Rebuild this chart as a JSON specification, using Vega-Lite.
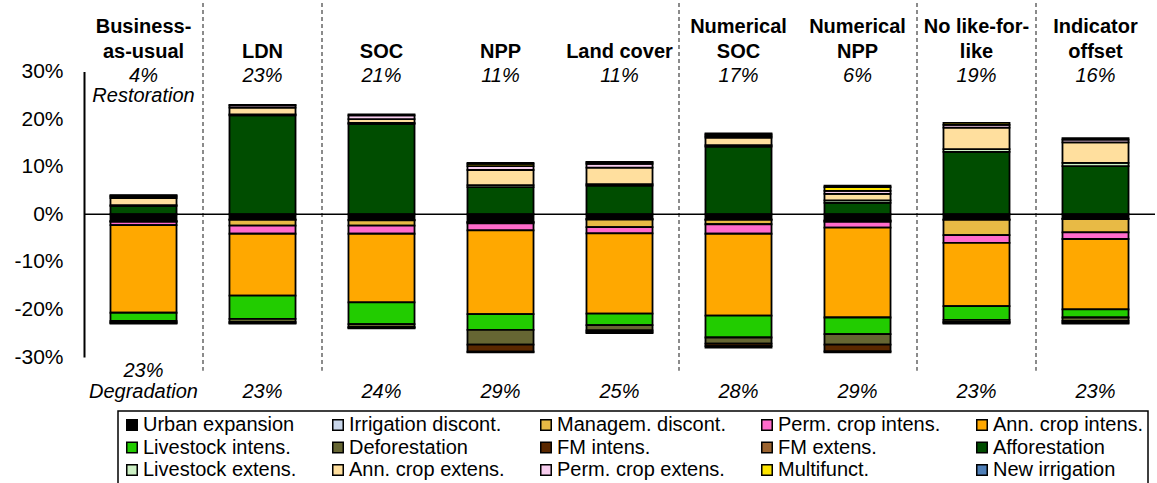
{
  "$schema": "https://vega.github.io/schema/vega-lite/v6.json",
  "width": 1071,
  "height": 285.5,
  "autosize": {"type": "none"},
  "padding": {"left": 84, "top": 71.5, "right": 2, "bottom": 126},
  "background": "white",
  "config": {
    "view": {"stroke": null},
    "font": "Liberation Sans",
    "text": {"font": "Liberation Sans", "color": "black"},
    "legend": {
      "orient": "none",
      "legendX": 34,
      "legendY": 339.5,
      "direction": "horizontal",
      "columns": 5,
      "strokeColor": "black",
      "strokeWidth": 1.5,
      "padding": 4,
      "columnPadding": 31,
      "rowPadding": 2.5,
      "labelFont": "Liberation Sans",
      "labelFontSize": 20,
      "labelColor": "black",
      "labelOffset": 1,
      "labelLimit": 400,
      "symbolType": "square",
      "symbolSize": 110,
      "symbolStrokeColor": "black",
      "symbolStrokeWidth": 1.5,
      "title": null
    }
  },
  "datasets": {
    "shares": [
      {"s": "Business-as-usual", "u": -1.4, "id": -0.1, "md": -0.1, "pi": -0.7, "ai": -18.4, "li": -1.7, "df": -0.3, "fi": -0.2, "fe": -0.1, "af": 1.7, "le": 0.2, "ae": 1.5, "pe": 0.3, "mf": 0.2, "ni": 0.1},
      {"s": "LDN", "u": -1.1, "id": -0.1, "md": -1.2, "pi": -1.7, "ai": -13.0, "li": -4.9, "df": -0.6, "fi": -0.3, "fe": -0.1, "af": 20.8, "le": 0.2, "ae": 1.4, "pe": 0.5, "mf": 0.1},
      {"s": "SOC", "u": -1.2, "id": -0.1, "md": -1.1, "pi": -1.7, "ai": -14.4, "li": -4.6, "df": -0.6, "fi": -0.2, "fe": -0.1, "af": 19.0, "le": 0.2, "ae": 0.8, "pe": 0.8, "mf": 0.2},
      {"s": "NPP", "u": -1.6, "id": -0.1, "md": -0.2, "pi": -1.5, "ai": -17.6, "li": -3.3, "df": -3.1, "fi": -1.5, "fe": -0.1, "af": 5.7, "le": 0.4, "ae": 3.2, "pe": 0.8, "mf": 0.5, "ni": 0.2},
      {"s": "Land cover", "u": -1.0, "id": -0.1, "md": -1.6, "pi": -1.3, "ai": -16.9, "li": -2.4, "df": -1.1, "fi": -0.4, "fe": -0.2, "af": 6.0, "le": 0.3, "ae": 3.5, "pe": 0.8, "mf": 0.3, "ni": 0.1},
      {"s": "Numerical SOC", "u": -1.1, "id": -0.1, "md": -0.9, "pi": -2.0, "ai": -17.2, "li": -4.6, "df": -1.3, "fi": -0.5, "fe": -0.3, "af": 14.2, "le": 0.3, "ae": 1.6, "pe": 0.3, "mf": 0.4, "ni": 0.2},
      {"s": "Numerical NPP", "u": -1.3, "id": -0.1, "md": -0.2, "pi": -1.2, "ai": -18.9, "li": -3.5, "df": -2.2, "fi": -1.4, "fe": -0.2, "af": 2.4, "le": 0.5, "ae": 1.4, "pe": 0.6, "mf": 0.8, "ni": 0.3},
      {"s": "No like-for-like", "u": -1.1, "id": -0.1, "md": -3.2, "pi": -1.6, "ai": -13.3, "li": -2.9, "df": -0.4, "fi": -0.2, "fe": -0.2, "af": 13.1, "le": 0.6, "ae": 4.5, "pe": 0.6, "mf": 0.4},
      {"s": "Indicator offset", "u": -0.9, "id": -0.1, "md": -2.8, "pi": -1.4, "ai": -14.8, "li": -1.7, "df": -0.7, "fi": -0.4, "fe": -0.2, "af": 10.1, "le": 0.7, "ae": 4.3, "pe": 0.6, "mf": 0.3}
    ],
    "types": [
      {"c": "u", "t": "Urban expansion", "k": 1},
      {"c": "id", "t": "Irrigation discont.", "k": 2},
      {"c": "md", "t": "Managem. discont.", "k": 3},
      {"c": "pi", "t": "Perm. crop intens.", "k": 4},
      {"c": "ai", "t": "Ann. crop intens.", "k": 5},
      {"c": "li", "t": "Livestock intens.", "k": 6},
      {"c": "df", "t": "Deforestation", "k": 7},
      {"c": "fi", "t": "FM intens.", "k": 8},
      {"c": "fe", "t": "FM extens.", "k": 9},
      {"c": "af", "t": "Afforestation", "k": 10},
      {"c": "le", "t": "Livestock extens.", "k": 11},
      {"c": "ae", "t": "Ann. crop extens.", "k": 12},
      {"c": "pe", "t": "Perm. crop extens.", "k": 13},
      {"c": "mf", "t": "Multifunct.", "k": 14},
      {"c": "ni", "t": "New irrigation", "k": 15}
    ],
    "labels": [
      {"s": "Business-as-usual", "title": ["Business-", "as-usual"], "up": ["4%", "Restoration"], "down": ["23%", "Degradation"]},
      {"s": "LDN", "title": ["", "LDN"], "up": ["23%"], "down": ["", "23%"]},
      {"s": "SOC", "title": ["", "SOC"], "up": ["21%"], "down": ["", "24%"]},
      {"s": "NPP", "title": ["", "NPP"], "up": ["11%"], "down": ["", "29%"]},
      {"s": "Land cover", "title": ["", "Land cover"], "up": ["11%"], "down": ["", "25%"]},
      {"s": "Numerical SOC", "title": ["Numerical", "SOC"], "up": ["17%"], "down": ["", "28%"]},
      {"s": "Numerical NPP", "title": ["Numerical", "NPP"], "up": ["6%"], "down": ["", "29%"]},
      {"s": "No like-for-like", "title": ["No like-for-", "like"], "up": ["19%"], "down": ["", "23%"]},
      {"s": "Indicator offset", "title": ["Indicator", "offset"], "up": ["16%"], "down": ["", "23%"]}
    ],
    "seps": [
      {"s": "LDN"}, {"s": "SOC"}, {"s": "Numerical SOC"}, {"s": "No like-for-like"}, {"s": "Indicator offset"}
    ]
  },
  "layer": [
    {
      "data": {"name": "shares"},
      "transform": [
        {"fold": ["u", "id", "md", "pi", "ai", "li", "df", "fi", "fe", "af", "le", "ae", "pe", "mf", "ni"], "as": ["c", "v"]},
        {"filter": "isValid(datum.v) && datum.v != 0"},
        {"lookup": "c", "from": {"data": {"name": "types"}, "key": "c", "fields": ["t", "k"]}}
      ],
      "mark": {"type": "bar", "stroke": "black", "strokeWidth": 1.8, "width": {"band": 0.555}},
      "encoding": {
        "x": {"field": "s", "type": "nominal", "axis": null,
              "scale": {"domain": ["Business-as-usual", "LDN", "SOC", "NPP", "Land cover", "Numerical SOC", "Numerical NPP", "No like-for-like", "Indicator offset"], "paddingInner": 0, "paddingOuter": 0}},
        "y": {"field": "v", "type": "quantitative", "stack": "zero",
              "scale": {"domain": [-30, 30], "nice": false},
              "axis": {"title": null, "values": [-30, -20, -10, 0, 10, 20, 30], "labelExpr": "datum.value + '%'",
                       "grid": false, "ticks": false, "labelPadding": 21, "labelFontSize": 21, "labelFont": "Liberation Sans",
                       "labelColor": "black", "domainColor": "black", "domainWidth": 2}},
        "color": {"field": "t", "type": "nominal",
                  "scale": {"domain": ["Urban expansion", "Irrigation discont.", "Managem. discont.", "Perm. crop intens.", "Ann. crop intens.", "Livestock intens.", "Deforestation", "FM intens.", "FM extens.", "Afforestation", "Livestock extens.", "Ann. crop extens.", "Perm. crop extens.", "Multifunct.", "New irrigation"],
                            "range": ["#000000", "#C9D6EA", "#E8BA45", "#FF6BCB", "#FFA800", "#22CC00", "#666633", "#5A2800", "#9C6430", "#004D00", "#CCF0C4", "#FFDF9E", "#F7CDEE", "#FFE600", "#4F7FB8"]}},
        "order": {"field": "k", "type": "quantitative"}
      }
    },
    {
      "data": {"name": "seps"},
      "mark": {"type": "rule", "strokeDash": [4, 3], "color": "#666666", "strokeWidth": 1.5},
      "encoding": {
        "x": {"field": "s", "type": "nominal", "bandPosition": 0, "axis": null,
              "scale": {"domain": ["Business-as-usual", "LDN", "SOC", "NPP", "Land cover", "Numerical SOC", "Numerical NPP", "No like-for-like", "Indicator offset"], "paddingInner": 0, "paddingOuter": 0}},
        "y": {"datum": 44.4, "type": "quantitative", "scale": {"domain": [-30, 30], "nice": false}},
        "y2": {"datum": -32.9}
      }
    },
    {
      "data": {"values": [{"z": 0}]},
      "mark": {"type": "rule", "color": "black", "strokeWidth": 1.5},
      "encoding": {
        "y": {"datum": 0, "type": "quantitative", "scale": {"domain": [-30, 30], "nice": false}}
      }
    },
    {
      "data": {"name": "labels"},
      "mark": {"type": "text", "fontWeight": "bold", "fontSize": 20, "baseline": "alphabetic", "dy": -38.5, "lineHeight": 25},
      "encoding": {
        "x": {"field": "s", "type": "nominal", "axis": null,
              "scale": {"domain": ["Business-as-usual", "LDN", "SOC", "NPP", "Land cover", "Numerical SOC", "Numerical NPP", "No like-for-like", "Indicator offset"], "paddingInner": 0, "paddingOuter": 0}},
        "y": {"datum": 30, "type": "quantitative", "scale": {"domain": [-30, 30], "nice": false}},
        "text": {"field": "title"}
      }
    },
    {
      "data": {"name": "labels"},
      "mark": {"type": "text", "fontStyle": "italic", "fontSize": 20, "baseline": "alphabetic", "dy": 10.5, "lineHeight": 20},
      "encoding": {
        "x": {"field": "s", "type": "nominal", "axis": null,
              "scale": {"domain": ["Business-as-usual", "LDN", "SOC", "NPP", "Land cover", "Numerical SOC", "Numerical NPP", "No like-for-like", "Indicator offset"], "paddingInner": 0, "paddingOuter": 0}},
        "y": {"datum": 30, "type": "quantitative", "scale": {"domain": [-30, 30], "nice": false}},
        "text": {"field": "up"}
      }
    },
    {
      "data": {"name": "labels"},
      "mark": {"type": "text", "fontStyle": "italic", "fontSize": 20, "baseline": "alphabetic", "dy": 19.5, "lineHeight": 21},
      "encoding": {
        "x": {"field": "s", "type": "nominal", "axis": null,
              "scale": {"domain": ["Business-as-usual", "LDN", "SOC", "NPP", "Land cover", "Numerical SOC", "Numerical NPP", "No like-for-like", "Indicator offset"], "paddingInner": 0, "paddingOuter": 0}},
        "y": {"datum": -30, "type": "quantitative", "scale": {"domain": [-30, 30], "nice": false}},
        "text": {"field": "down"}
      }
    }
  ]
}
